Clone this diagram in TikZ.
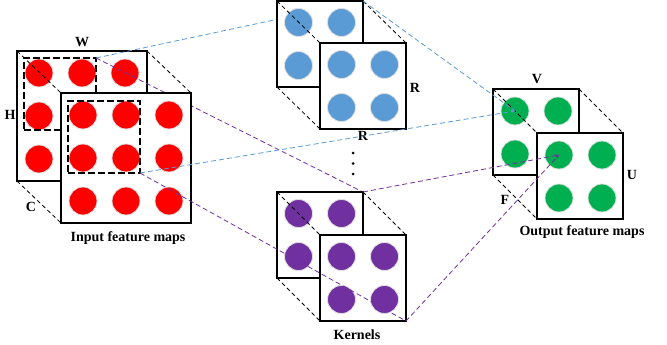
\documentclass[tikz,border=0pt]{standalone}
\usepackage{fontspec}
\setmainfont{Liberation Serif}
\usetikzlibrary{arrows.meta,calc}
\definecolor{cred}{HTML}{FF0000}
\definecolor{cblue}{HTML}{5B9BD5}
\definecolor{cpurple}{HTML}{7030A0}
\definecolor{cgreen}{HTML}{00B050}
\begin{document}
\begin{tikzpicture}[x=1pt,y=-1pt,
  mapbox/.style={fill=white, minimum size=#1, inner sep=0pt, outer sep=0pt},
  boxline/.style={draw=black, line width=2pt},
  selrect/.style={draw=black, line width=1.5pt, dash pattern=on 7pt off 3pt, minimum size=72pt, inner sep=0pt, outer sep=0pt},
  dotc/.style={circle, fill=#1, draw=black!12, line width=0.8pt, minimum size=28pt, inner sep=0pt},
  diag/.style={draw=black, line width=0.8pt, dash pattern=on 4pt off 3pt},
  bline/.style={draw=cblue, line width=0.8pt, dash pattern=on 5pt off 3pt},
  pline/.style={draw=cpurple, line width=0.8pt, dash pattern=on 5pt off 3pt},
  tipped/.style={-{Stealth[length=4pt,width=3pt]}},
  lab/.style={font=\fontsize{14}{16}\selectfont\bfseries, inner sep=0pt}
]
\useasboundingbox (0,0) rectangle (667,345);

% corner points of kernel back maps (used before those maps are drawn)
\coordinate (ktbNE) at (363,1);
\coordinate (kbbNE) at (363,192);

% ---------- Input feature maps: back layer ----------
\node[mapbox=130pt] (ib) at (82,116) {};
\foreach \i in {0,1,2} \foreach \j in {0,1,2}
  \node[dotc=cred] (ib-\i-\j) at ($(ib.north west)+(22+43*\i,22+43*\j)$) {};
\draw[boxline] (ib.north west) rectangle (ib.south east);
\node[selrect] (ibs) at ($(ib.north west)+(43,43)$) {};

% input back -> kernels
\draw[bline] (ibs.north east) -- (ktbNE);
\draw[pline] (ibs.north east) -- (kbbNE);

% ---------- Input feature maps: front layer ----------
\node[mapbox=130pt] (if) at (126,158) {};
\draw[boxline] (if.north west) rectangle (if.south east);
\draw[diag] (ib.north west) -- (if.north west);
\draw[diag] (ib.north east) -- (if.north east);
\draw[diag] (ib.south west) -- (if.south west);
\foreach \i in {0,1,2} \foreach \j in {0,1,2}
  \node[dotc=cred] (if-\i-\j) at ($(if.north west)+(22+43*\i,22+43*\j)$) {};
\node[selrect] (ifs) at ($(if.north west)+(43,44)$) {};

\node[lab] (lW) at (82,42) {W};
\node[lab] (lH) at (10,115) {H};
\node[lab] (lC) at (31,207) {C};
\node[lab] (lin) at (128,238) {Input feature maps};

% ---------- Kernels (top) ----------
\node[mapbox=86pt] (ktb) at (320,44) {};
\foreach \i in {0,1} \foreach \j in {0,1}
  \node[dotc=cblue] (ktb-\i-\j) at ($(ktb.north west)+(21.5+43*\i,21.5+43*\j)$) {};
\draw[boxline] (ktb.north west) rectangle (ktb.south east);
\node[mapbox=86pt] (ktf) at (363,86) {};
\draw[boxline] (ktf.north west) rectangle (ktf.south east);
\draw[diag] (ktb.north west) -- (ktf.north west);
\draw[diag] (ktb.north east) -- (ktf.north east);
\draw[diag] (ktb.south west) -- (ktf.south west);
\foreach \i in {0,1} \foreach \j in {0,1}
  \node[dotc=cblue] (ktf-\i-\j) at ($(ktf.north west)+(21.5+43*\i,21.5+43*\j)$) {};
\node[lab] (lR1) at (415,88) {R};
\node[lab] (lR2) at (363,136) {R};

% dots
\foreach \y in {153,163.5,174}
  \fill (353,\y) circle (1.5pt);

% ---------- Kernels (bottom) ----------
\node[mapbox=86pt] (kbb) at (320,235) {};
\foreach \i in {0,1} \foreach \j in {0,1}
  \node[dotc=cpurple] (kbb-\i-\j) at ($(kbb.north west)+(21.5+43*\i,21.5+43*\j)$) {};
\draw[boxline] (kbb.north west) rectangle (kbb.south east);
\node[mapbox=86pt] (kbf) at (363,278) {};
\draw[boxline] (kbf.north west) rectangle (kbf.south east);
\draw[diag] (kbb.north west) -- (kbf.north west);
\draw[diag] (kbb.north east) -- (kbf.north east);
\draw[diag] (kbb.south west) -- (kbf.south west);
\foreach \i in {0,1} \foreach \j in {0,1}
  \node[dotc=cpurple] (kbf-\i-\j) at ($(kbf.north west)+(21.5+43*\i,21.5+43*\j)$) {};
\node[lab] (lK) at (357,335) {Kernels};

% ---------- Output feature maps ----------
\node[mapbox=86pt] (ob) at (536,132) {};
\foreach \i in {0,1} \foreach \j in {0,1}
  \node[dotc=cgreen] (ob-\i-\j) at ($(ob.north west)+(22+43*\i,22+43*\j)$) {};
\draw[boxline] (ob.north west) rectangle (ob.south east);
\node[mapbox=86pt] (of) at (580,176) {};
\draw[boxline] (of.north west) rectangle (of.south east);
\draw[diag] (ob.north west) -- (of.north west);
\draw[diag] (ob.north east) -- (of.north east);
\draw[diag] (ob.south west) -- (of.south west);
\foreach \i in {0,1} \foreach \j in {0,1}
  \node[dotc=cgreen] (of-\i-\j) at ($(of.north west)+(22+43*\i,22+43*\j)$) {};
\node[lab] (lV) at (537,79) {V};
\node[lab] (lU) at (632,175) {U};
\node[lab] (lF) at (505,200) {F};
\node[lab] (lout) at (582,232) {Output feature maps};

% ---------- Connectors on top ----------
\draw[bline,tipped] (ktb.north east) -- (ob-0-0.center);
\draw[pline,tipped] (kbb.north east) -- (of-0-0.center);
\draw[bline,tipped] (ifs.south east) -- (ktf.south east) -- (ob-0-0.center);
\draw[pline,tipped] (ifs.south east) -- (kbf.south east) -- (of-0-0.center);
\end{tikzpicture}
\end{document}
